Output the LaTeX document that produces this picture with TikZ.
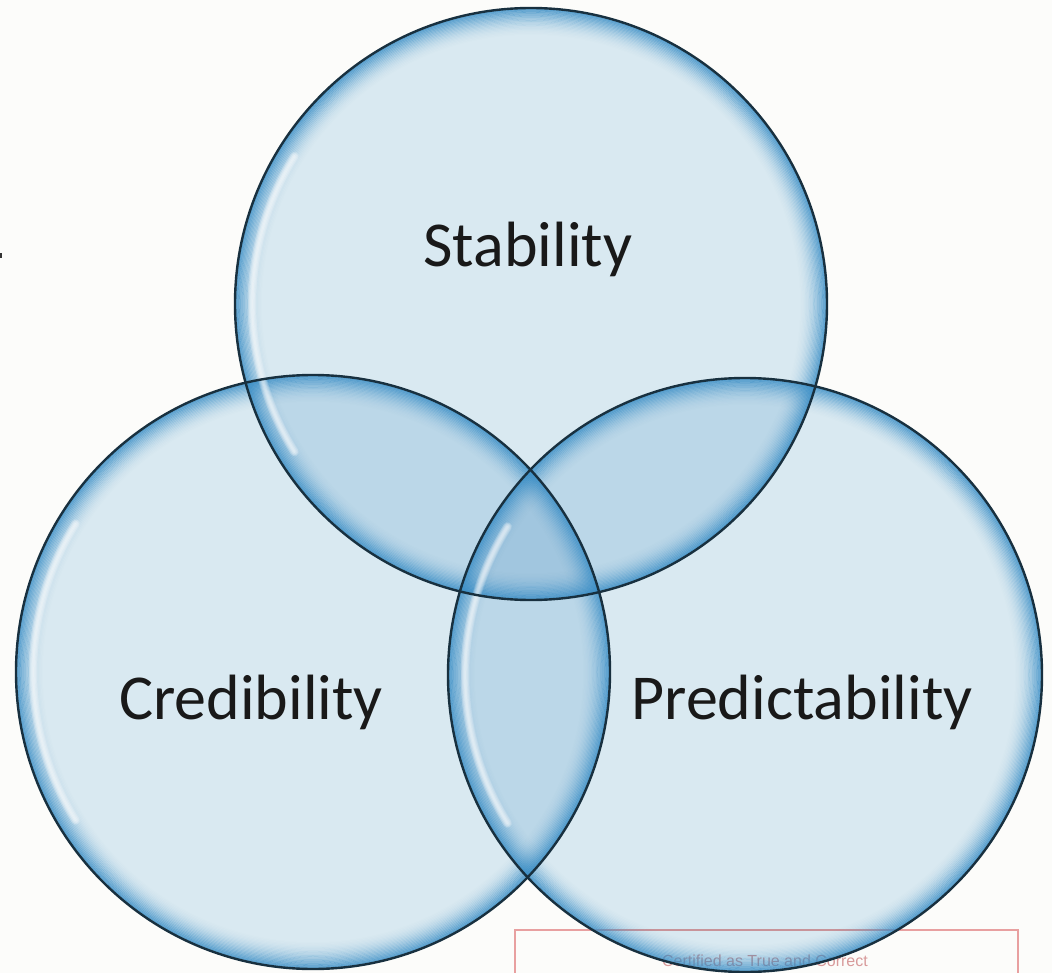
\documentclass[tikz,border=0pt]{standalone}
\usepackage{fontspec}
\setmainfont{Carlito}
\newfontfamily\stampfont{Liberation Sans}
\definecolor{edge}{HTML}{18303F}
\definecolor{basefill}{HTML}{DCECF6}
\definecolor{glow}{HTML}{3A8EC6}
\definecolor{stampred}{HTML}{E8A0A0}
\definecolor{paper}{HTML}{FCFCFA}
\tikzset{
  bubblefill/.style={fill=basefill, blend mode=multiply},
  bubbleedge/.style={draw=edge, line width=2.4pt},
  label/.style={font=\fontsize{64}{70}\selectfont, text=black!90, inner sep=0pt}
}
\newcommand{\glowring}[2]{%
  \begin{scope}
  \clip (#1) circle (#2);
  \foreach \i in {0,...,21}{%
    \pgfmathsetmacro{\op}{0.8*(1-\i/22)^2}
    \draw[glow, line width=1.6pt, draw opacity=\op] (#1) circle ({#2-\i*1.3});
  }
  \end{scope}}
\newcommand{\shine}[2]{%
  \foreach \j in {0,...,5}{%
    \draw[white, line width={9-1.4*\j}, draw opacity=0.16, line cap=round] (#1) ++(148:{#2-17}) arc (148:212:{#2-17});
  }}
\begin{document}
\begin{tikzpicture}[x=1pt,y=-1pt]
\fill[paper] (0,0) rectangle (1052,973);
\useasboundingbox (0,0) rectangle (1052,973);
% stamp
\draw[stampred, line width=2.5pt] (515,990) -- (515,930) -- (1018,930) -- (1018,990);
\node[text=stampred!85!gray, font=\fontsize{16}{17}\selectfont\stampfont] (stamp) at (765,961) {Certified as True and Correct};
% tiny mark
\fill[black!80] (0,253) rectangle (2,258);
% circles
\coordinate (ct) at (531,304);
\coordinate (cl) at (313,672);
\coordinate (cr) at (745,675);
\fill[bubblefill] (ct) circle (296);
\fill[bubblefill] (cl) circle (297);
\fill[bubblefill] (cr) circle (297);
\glowring{ct}{296}
\glowring{cl}{297}
\glowring{cr}{297}
\shine{ct}{296}
\shine{cl}{297}
\shine{cr}{297}
\draw[bubbleedge] (ct) circle (296);
\draw[bubbleedge] (cl) circle (297);
\draw[bubbleedge] (cr) circle (297);
\node[label, anchor=base] (stab) at (528,267) {Stability};
\node[label, anchor=base] (cred) at (251,719) {Credibility};
\node[label, anchor=base] (pred) at (802,719) {Predictability};
\end{tikzpicture}
\end{document}
